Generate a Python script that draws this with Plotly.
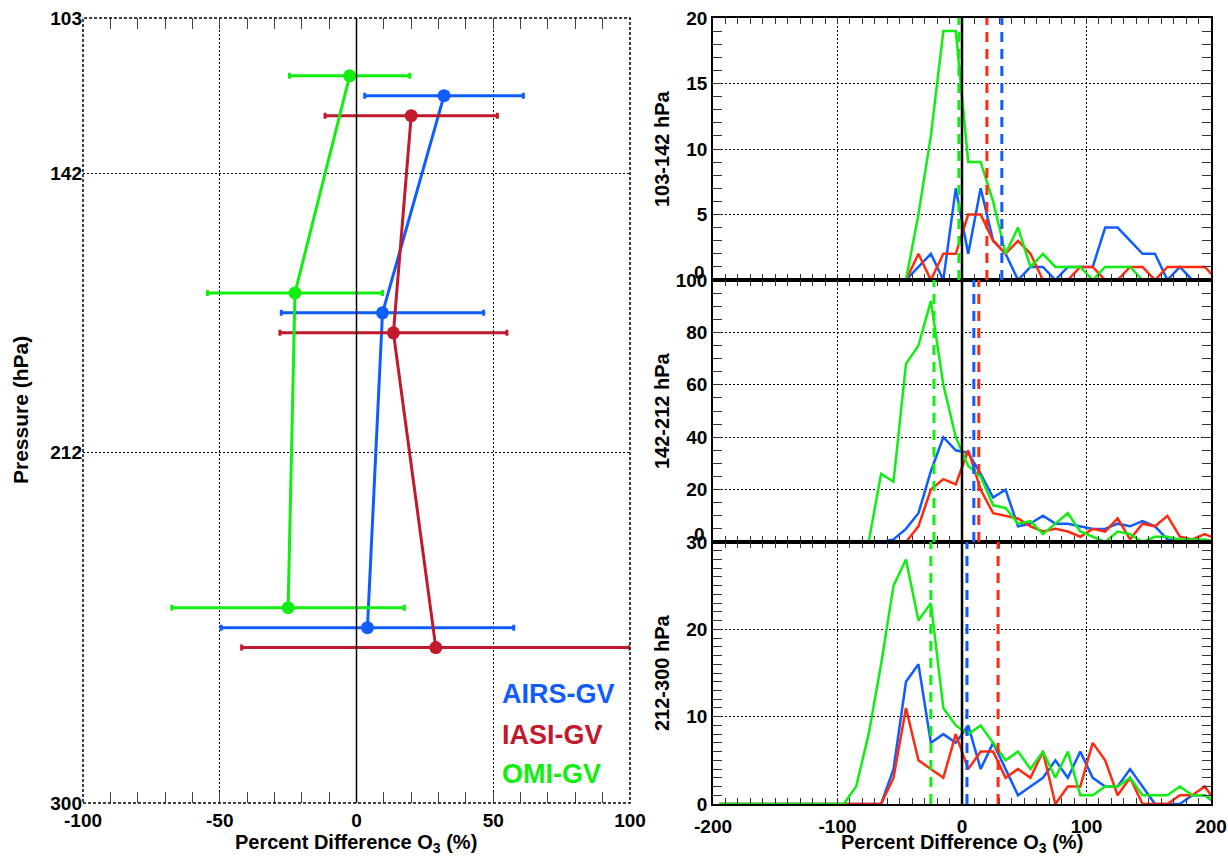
import plotly.graph_objects as go

# ---------------- data ----------------
layers = ["103-142 hPa", "142-212 hPa", "212-300 hPa"]
p_ticks = [103, 142, 212, 300]
x_left_ticks = [-100, -50, 0, 50, 100]
x_right_ticks = [-200, -100, 0, 100, 200]

# left panel: mean percent difference and std per layer
p_airs = [122.5, 177, 256]
p_iasi = [127.5, 182, 261]
p_omi = [117.5, 172, 251]
mean_airs = [32, 9.5, 4]
mean_iasi = [20, 13.5, 29]
mean_omi = [-2.5, -22.5, -25]
std_airs = [29, 37, 53.5]
std_iasi = [31.5, 41.5, 71]
std_omi = [22, 32, 42.5]

# histogram bin centres (percent difference)
bins = [-195, -185, -175, -165, -155, -145, -135, -125, -115, -105,
        -95, -85, -75, -65, -55, -45, -35, -25, -15, -5,
        5, 15, 25, 35, 45, 55, 65, 75, 85, 95,
        105, 115, 125, 135, 145, 155, 165, 175, 185, 195, 205]

# 103-142 hPa
h1_airs = [0]*16 + [1, 2, 0, 7, 2, 7, 3, 2, 0, 1, 1, 0, 1, 1, 1, 4, 4, 3, 2, 2, 0, 1, 0, 0, 0]
h1_iasi = [0]*16 + [2, 0, 2, 2, 5, 5, 3, 2, 3, 2, 0, 0, 0, 1, 1, 0, 0, 1, 1, 0, 1, 1, 1, 1, 0]
h1_omi = [0]*16 + [5, 11, 19, 19, 9, 9, 6, 2, 4, 1, 2, 1, 1, 1, 0, 1, 1, 1, 0, 0, 0, 0, 0, 0, 0]
# 142-212 hPa
h2_airs = [0]*14 + [1, 5, 11, 27, 40, 35, 34, 26, 17, 20, 6, 7, 10, 7, 7, 6, 5, 5, 7, 6, 8, 6, 1, 0, 0, 0, 0]
h2_iasi = [0]*16 + [6, 20, 24, 22, 35, 20, 11, 10, 9, 6, 4, 5, 4, 2, 5, 4, 9, 1, 7, 6, 10, 2, 1, 3, 1]
h2_omi = [0]*13 + [26, 23, 68, 75, 92, 60, 40, 29, 25, 14, 13, 7, 8, 3, 7, 11, 4, 2, 0, 4, 3, 0, 2, 2, 1, 1, 1, 0]
# 212-300 hPa
h3_airs = [0]*14 + [4, 14, 16, 7, 8, 7, 9, 4, 7, 4, 1, 2, 3, 5, 3, 6, 3, 2, 2, 4, 2, 0, 0, 0, 1, 1, 0]
h3_iasi = [0]*14 + [3, 11, 5, 4, 3, 8, 4, 6, 6, 3, 4, 3, 6, 0, 2, 2, 7, 5, 1, 3, 0, 0, 0, 1, 1, 2, 0]
h3_omi = [0]*11 + [2, 8, 16, 25, 28, 21, 23, 11, 9, 8, 9, 7, 5, 6, 4, 6, 3, 6, 1, 1, 2, 2, 3, 1, 1, 1, 2, 1, 1, 0]

hist_ranges = [[0, 20], [0, 100], [0, 30]]
hist_ticks = [[0, 5, 10, 15, 20], [0, 20, 40, 60, 80, 100], [0, 10, 20, 30]]
hist_minor = [1, 5, 1]

# ---------------- style ----------------
W, H = 1228, 857
FONT = "Liberation Sans"
C_BLUE = "#0f5cff"
C_RED_L = "#c01a2c"
C_RED_R = "#ff2a10"
C_GREEN = "#11ee11"
DOT = "2px,2px"

def px(x):
    return x / W

def py(y):
    return 1 - y / H

def b(v):
    return "<b>%s</b>" % v

fig = go.Figure()

# left panel traces
for p, m, s, c, nm in [(p_airs, mean_airs, std_airs, C_BLUE, "AIRS-GV"),
                       (p_iasi, mean_iasi, std_iasi, C_RED_L, "IASI-GV"),
                       (p_omi, mean_omi, std_omi, C_GREEN, "OMI-GV")]:
    fig.add_trace(go.Scatter(
        x=m, y=p, mode="lines+markers", name=nm, showlegend=False,
        line=dict(color=c, width=3), marker=dict(color=c, size=13),
        error_x=dict(type="data", array=s, color=c, thickness=3, width=3),
        xaxis="x", yaxis="y", cliponaxis=False))

# right panels
hists = [(h1_airs, h1_iasi, h1_omi), (h2_airs, h2_iasi, h2_omi), (h3_airs, h3_iasi, h3_omi)]
for i, (ha, hi, ho) in enumerate(hists):
    ax = str(i + 2)
    for h, c in [(ha, C_BLUE), (hi, C_RED_R), (ho, C_GREEN)]:
        fig.add_trace(go.Scatter(x=bins, y=h, mode="lines", showlegend=False,
                                 line=dict(color=c, width=2.5),
                                 xaxis="x" + ax, yaxis="y" + ax))

tickfont = dict(family=FONT, size=19, color="black")

layout = dict(
    width=W, height=H, margin=dict(l=0, r=0, t=0, b=0, pad=0, autoexpand=False),
    paper_bgcolor="white", plot_bgcolor="white", showlegend=False,
    font=dict(family=FONT, color="black"),
    xaxis=dict(domain=[px(83), px(630)], anchor="y", range=[-100, 100], automargin=False,
               tickmode="array", tickvals=x_left_ticks, ticktext=[b(v) for v in x_left_ticks],
               ticks="inside", ticklen=11, tickcolor="#444", ticklabelstandoff=4,
               tickwidth=1, minor=dict(tickmode="linear", tick0=0, dtick=10, ticks="inside",
                                       ticklen=11, tickcolor="#444", showgrid=False),
               mirror="allticks", showline=False, zeroline=False,
               showgrid=True, gridcolor="black", griddash=DOT, gridwidth=1,
               tickfont=tickfont),
    yaxis=dict(domain=[py(803), py(18)], anchor="x", range=[300, 103], automargin=False,
               tickmode="array", tickvals=p_ticks, ticktext=[b(v) for v in p_ticks],
               ticks="", showline=False, zeroline=False,
               showgrid=True, gridcolor="black", griddash=DOT, gridwidth=1,
               tickfont=tickfont),
)

tops = [18, 280, 542]
bots = [280, 542, 804]
for i in range(3):
    ax = str(i + 2)
    # the lowest label of the upper two panels is drawn separately (raised), as in the original
    ytext = [b(v) for v in hist_ticks[i]]
    if i < 2:
        ytext[0] = ""
    layout["xaxis" + ax] = dict(
        domain=[px(713), px(1211)], anchor="y" + ax, range=[-200, 200], automargin=False,
        tickmode="array", tickvals=x_right_ticks, ticktext=[b(v) for v in x_right_ticks],
        ticks="inside", ticklen=6, tickcolor="#333", ticklabelstandoff=4,
        minor=dict(tickmode="linear", tick0=0, dtick=10, ticks="inside", ticklen=6,
                   tickcolor="#333", showgrid=False),
        showline=True, linecolor="black", linewidth=1.5, mirror="allticks",
        zeroline=False, showgrid=True, gridcolor="black", griddash=DOT, gridwidth=1,
        showticklabels=(i == 2), tickfont=tickfont)
    layout["yaxis" + ax] = dict(
        domain=[py(bots[i]), py(tops[i])], anchor="x" + ax, range=hist_ranges[i],
        automargin=False, tickmode="array", tickvals=hist_ticks[i], ticktext=ytext,
        ticks="inside", ticklen=9, tickcolor="#333",
        minor=dict(tickmode="linear", tick0=0, dtick=hist_minor[i], ticks="inside",
                   ticklen=9, tickcolor="#333", showgrid=False),
        showline=True, linecolor="black", linewidth=1.5, mirror="allticks",
        zeroline=False, showgrid=True, gridcolor="black", griddash=DOT, gridwidth=1,
        tickfont=tickfont)

fig.update_layout(**layout)

shapes = []
# left frame (dotted) and zero line
shapes.append(dict(type="rect", xref="x domain", yref="y domain", x0=0, x1=1, y0=0, y1=1,
                   line=dict(color="black", width=1.5, dash="3px,2px"), layer="above"))
shapes.append(dict(type="line", xref="x", yref="y domain", x0=0, x1=0, y0=0, y1=1,
                   line=dict(color="black", width=1.5), layer="above"))
for i in range(3):
    ax = str(i + 2)
    for m, c in [(mean_omi[i], C_GREEN), (mean_iasi[i], C_RED_R), (mean_airs[i], C_BLUE)]:
        shapes.append(dict(type="line", xref="x" + ax, yref="y" + ax + " domain",
                           x0=m, x1=m, y0=0, y1=1,
                           line=dict(color=c, width=3, dash="10px,7px"), layer="above"))
    shapes.append(dict(type="line", xref="x" + ax, yref="y" + ax + " domain",
                       x0=0, x1=0, y0=0, y1=1,
                       line=dict(color="black", width=2.5), layer="above"))
fig.update_layout(shapes=shapes)

ann = []
ann.append(dict(text=b("Pressure (hPa)"), x=px(21), y=py(410), xref="paper", yref="paper",
                xanchor="center", yanchor="middle", textangle=-90, showarrow=False,
                font=dict(family=FONT, size=21, color="black")))
for lab, yc in zip(layers, [149, 411, 673]):
    ann.append(dict(text=b(lab), x=px(662), y=py(yc), xref="paper", yref="paper",
                    xanchor="center", yanchor="middle", textangle=-90, showarrow=False,
                    font=dict(family=FONT, size=20, color="black")))
for xc in [356, 962]:
    ann.append(dict(text=b("Percent Difference O<sub>3</sub> (%)"), x=px(xc), y=py(829),
                    xref="paper", yref="paper", xanchor="center", yanchor="top",
                    showarrow=False, font=dict(family=FONT, size=20, color="black")))
for lab, c, yc in [("AIRS-GV", C_BLUE, 694), ("IASI-GV", C_RED_L, 735), ("OMI-GV", C_GREEN, 774)]:
    ann.append(dict(text=b(lab), x=px(500), y=py(yc), xref="paper", yref="paper",
                    xanchor="left", yanchor="middle", showarrow=False,
                    font=dict(family=FONT, size=27, color=c)))
# raised "0" labels of the two upper histogram panels
for i, yb in enumerate([280, 542]):
    ann.append(dict(text=b(0), x=px(707), y=py(yb - 8), xref="paper", yref="paper",
                    xanchor="right", yanchor="middle", showarrow=False,
                    font=dict(family=FONT, size=19, color="black")))
fig.update_layout(annotations=ann)

fig.write_html("out.html")
